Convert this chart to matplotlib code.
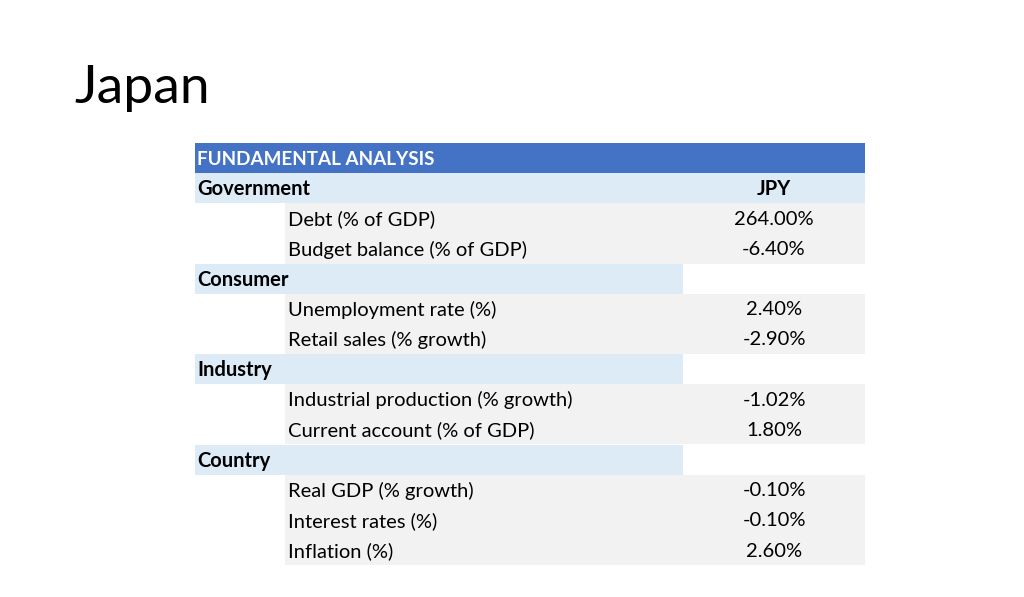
import matplotlib
matplotlib.use("Agg")
import matplotlib.pyplot as plt
from matplotlib.patches import Rectangle

# table content
title = "Japan"
header = "FUNDAMENTAL ANALYSIS"
currency = "JPY"
groups = ["Government", "Consumer", "Industry", "Country"]
indicators = [
    ["Debt (% of GDP)", "Budget balance (% of GDP)"],
    ["Unemployment rate (%)", "Retail sales (% growth)"],
    ["Industrial production (% growth)", "Current account (% of GDP)"],
    ["Real GDP (% growth)", "Interest rates (%)", "Inflation (%)"],
]
values = [
    ["264.00%", "-6.40%"],
    ["2.40%", "-2.90%"],
    ["-1.02%", "1.80%"],
    ["-0.10%", "-0.10%", "2.60%"],
]

BLUE = "#4472C4"
LIGHT = "#DDEBF7"
GREY = "#F2F2F2"
FONT = ["Lato", "DejaVu Sans"]
FS = 14.5

fig = plt.figure(figsize=(10.24, 5.97), dpi=100)
ax = fig.add_axes([0, 0, 1, 1])
ax.set_xlim(0, 1024)
ax.set_ylim(597, 0)
ax.axis("off")

x0, x1, x2, x3 = 195, 285, 683, 865
top = 143
rh = 30.15

ax.text(74, 88, title, fontsize=38.5, family=FONT, va="center", ha="left")

def row_y(i):
    return top + i * rh

# header row
ax.add_patch(Rectangle((x0, row_y(0)), x3 - x0, rh, color=BLUE, lw=0))
ax.text(x0 + 2, row_y(0) + rh / 2 + 1, header, color="white", fontsize=13.6,
        fontweight="bold", family=FONT, va="center")

r = 1
for gi, (g, inds, vals) in enumerate(zip(groups, indicators, values)):
    # first group row spans the whole width and carries the currency
    width = x3 - x0 if gi == 0 else x2 - x0
    ax.add_patch(Rectangle((x0, row_y(r)), width, rh, color=LIGHT, lw=0))
    ax.text(x0 + 2, row_y(r) + rh / 2 + 1, g, fontsize=FS, fontweight="bold",
            family=FONT, va="center")
    if gi == 0:
        ax.text(774, row_y(r) + rh / 2 + 1, currency, fontsize=FS,
                fontweight="bold", family=FONT, va="center", ha="center")
    r += 1
    for name, v in zip(inds, vals):
        ax.add_patch(Rectangle((x1, row_y(r)), x3 - x1, rh, color=GREY, lw=0))
        ax.text(x1 + 3, row_y(r) + rh / 2 + 1, name, fontsize=FS, family=FONT,
                va="center")
        ax.text(774, row_y(r) + rh / 2 + 1, v, fontsize=FS, family=FONT,
                va="center", ha="center")
        r += 1

fig.savefig("out.png", dpi=100)
